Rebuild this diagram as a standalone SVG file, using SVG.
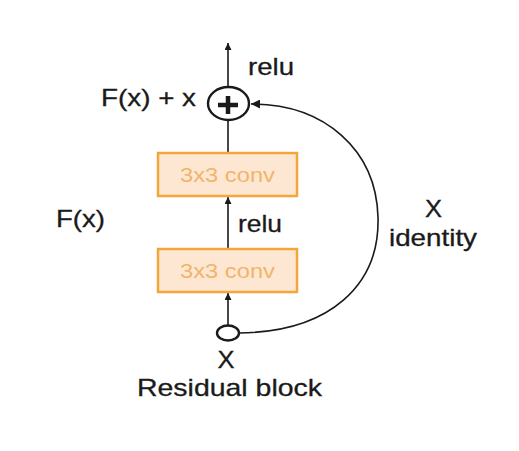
<svg xmlns="http://www.w3.org/2000/svg" width="519" height="451" viewBox="0 0 519 451">
<style>
.t{font-family:"Liberation Sans",Arial,sans-serif;font-size:24px;fill:#1a1a1a;stroke:#1a1a1a;stroke-width:0.3}
.bt{font-family:"Liberation Sans",Arial,sans-serif;font-size:19.5px;fill:#f0b56a}
.box{fill:#fde7d2;stroke:#f4a63c;stroke-width:2.5}
.ln{stroke:#1a1a1a;stroke-width:1.6;fill:none}
</style>
<defs>
<marker id="ah" viewBox="0 0 10 10" refX="10" refY="5" markerWidth="7" markerHeight="7" markerUnits="userSpaceOnUse" orient="auto">
<path d="M0,0 L10,5 L0,10 z" fill="#1a1a1a"/>
</marker>
<marker id="ah2" viewBox="0 0 10 10" refX="10" refY="5" markerWidth="11" markerHeight="9" markerUnits="userSpaceOnUse" orient="auto">
<path d="M0,0 L10,5 L0,10 z" fill="#1a1a1a"/>
</marker>
</defs>
<rect width="519" height="451" fill="#ffffff"/>
<g id="connectors">
<line class="ln" x1="228" y1="87" x2="228" y2="43" marker-end="url(#ah)"/>
<line class="ln" x1="228" y1="153" x2="228" y2="120"/>
<line class="ln" x1="228" y1="249" x2="228" y2="197" marker-end="url(#ah)"/>
<line class="ln" x1="228" y1="325" x2="228" y2="293" marker-end="url(#ah)"/>
<path class="ln" d="M239,333 C330,332 380,285 378,217 C376,150 325,104 251,104" stroke-width="2.5" marker-end="url(#ah2)"/>
</g>
<g id="add">
<ellipse cx="228.5" cy="103.5" rx="20.5" ry="16.5" fill="#fff" stroke="#1a1a1a" stroke-width="2.4"/>
<path d="M218,105 H238 M228,96 V114" stroke="#1a1a1a" stroke-width="4.5"/>
</g>
<g id="conv2">
<rect class="box" x="158" y="153" width="139" height="43"/>
<text class="bt" x="180" y="182" textLength="95" lengthAdjust="spacingAndGlyphs">3x3 conv</text>
</g>
<g id="conv1">
<rect class="box" x="158" y="249" width="139" height="43"/>
<text class="bt" x="180" y="278" textLength="95" lengthAdjust="spacingAndGlyphs">3x3 conv</text>
</g>
<g id="input">
<ellipse cx="228" cy="333" rx="11" ry="7.5" fill="#fff" stroke="#1a1a1a" stroke-width="2.4"/>
</g>
<g id="labels">
<text class="t" x="248" y="75" textLength="46" lengthAdjust="spacingAndGlyphs">relu</text>
<text class="t" x="101" y="106" textLength="95" lengthAdjust="spacingAndGlyphs">F(x) + x</text>
<text class="t" x="56" y="227" textLength="49" lengthAdjust="spacingAndGlyphs">F(x)</text>
<text class="t" x="238" y="232" textLength="44" lengthAdjust="spacingAndGlyphs">relu</text>
<text class="t" x="425" y="217" textLength="17" lengthAdjust="spacingAndGlyphs">X</text>
<text class="t" x="389" y="246" textLength="88" lengthAdjust="spacingAndGlyphs">identity</text>
<text class="t" x="217.5" y="368" textLength="17" lengthAdjust="spacingAndGlyphs">X</text>
<text class="t" x="137" y="396" textLength="185" lengthAdjust="spacingAndGlyphs">Residual block</text>
</g>
</svg>
